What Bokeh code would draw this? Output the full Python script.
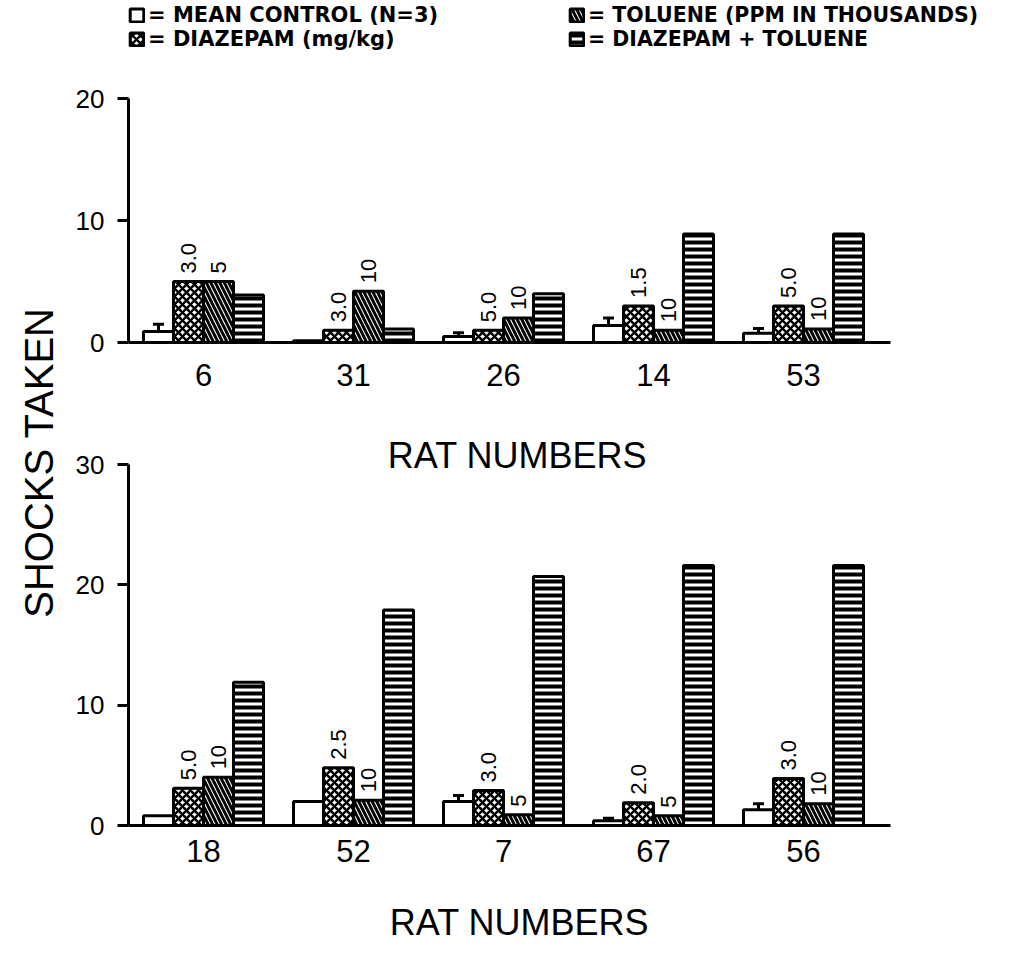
import math
from bokeh.plotting import figure
from bokeh.models import Range1d, FixedTicker, Legend, LegendItem, Label
from bokeh.layouts import row, column
from bokeh.embed import file_html
from bokeh.resources import INLINE
from bokeh.core.properties import value

# ---------------- data ----------------
top_rats = ["6", "31", "26", "14", "53"]
top_control = [0.9, 0.15, 0.5, 1.4, 0.75]
top_control_err = [1.5, None, 0.8, 2.0, 1.15]
top_diazepam = [5.0, 1.0, 1.0, 3.0, 3.0]
top_toluene = [5.0, 4.2, 2.0, 1.0, 1.1]
top_combo = [3.9, 1.1, 4.0, 8.9, 8.9]
top_diaz_dose = ["3.0", "3.0", "5.0", "1.5", "5.0"]
top_tol_dose = ["5", "10", "10", "10", "10"]

bottom_rats = ["18", "52", "7", "67", "56"]
bottom_control = [0.8, 2.0, 2.0, 0.4, 1.3]
bottom_control_err = [None, None, 2.5, 0.6, 1.8]
bottom_diazepam = [3.1, 4.8, 2.9, 1.9, 3.9]
bottom_toluene = [4.0, 2.1, 0.9, 0.8, 1.8]
bottom_combo = [11.9, 17.9, 20.7, 21.6, 21.6]
bottom_diaz_dose = ["5.0", "2.5", "3.0", "2.0", "3.0"]
bottom_tol_dose = ["10", "10", "5", "5", "10"]

top_ticks = [0, 10, 20]
bottom_ticks = [0, 10, 20, 30]

legend_labels = ["= MEAN CONTROL (N=3)", "= DIAZEPAM (mg/kg)",
                 "= TOLUENE (PPM IN THOUSANDS)", "= DIAZEPAM + TOLUENE"]
x_title = "RAT NUMBERS"
y_title = "SHOCKS TAKEN"

# ---------------- styling ----------------
FONT = "Liberation Sans"
LEG_FONT = "DejaVu Sans"
PX_PER_GROUP = 150.0
BAR_W = 0.2
AXIS_END = 5.08  # where the x axis line stops (data units)

styles = [
    dict(fill_color="white"),
    dict(fill_color="white", hatch_pattern="diagonal_cross", hatch_color="black",
         hatch_scale=8, hatch_weight=2.5),
    dict(fill_color="white", hatch_pattern="left_diagonal_line", hatch_color="black",
         hatch_scale=9, hatch_weight=3),
    dict(fill_color="white", hatch_pattern="horizontal_line", hatch_color="black",
         hatch_scale=7, hatch_weight=4),
]


def style_axes(p, yticks, ymax_tick, rats, standoff):
    p.outline_line_color = None
    p.xgrid.visible = False
    p.ygrid.visible = False
    yax = p.yaxis[0]
    yax.ticker = FixedTicker(ticks=yticks)
    yax.bounds = (0, ymax_tick)
    yax.axis_line_width = 3
    yax.major_tick_line_width = 3
    yax.major_tick_out = 11
    yax.major_tick_in = 0
    yax.minor_tick_line_color = None
    yax.major_label_text_font = FONT
    yax.major_label_text_font_size = "26px"
    yax.major_label_text_color = "black"
    yax.major_label_standoff = 13
    xax = p.xaxis[0]
    centers = [i + 0.5 for i in range(len(rats))]
    xax.ticker = FixedTicker(ticks=centers)
    xax.major_label_overrides = {c: r for c, r in zip(centers, rats)}
    xax.bounds = (0, AXIS_END)
    xax.axis_line_width = 3
    xax.major_tick_line_color = None
    xax.major_tick_out = 0
    xax.major_tick_in = 0
    xax.minor_tick_line_color = None
    xax.major_label_text_font = FONT
    xax.major_label_text_font_size = "31px"
    xax.major_label_text_color = "black"
    xax.major_label_standoff = standoff


def draw_panel(p, rats, control, err, diaz, tol, combo, diaz_dose, tol_dose):
    series = [control, diaz, tol, combo]
    renderers = []
    for k, vals in enumerate(series):
        xs = [i + 0.2 + BAR_W * k for i in range(len(rats))]
        r = p.vbar(x=xs, top=vals, bottom=0, width=BAR_W, line_color="black",
                   line_width=3, **styles[k])
        renderers.append(r)
    # error bars of control
    ex = [i + 0.2 for i, e in enumerate(err) if e is not None]
    ey0 = [control[i] for i, e in enumerate(err) if e is not None]
    ey1 = [e for e in err if e is not None]
    p.segment(x0=ex, y0=ey0, x1=ex, y1=ey1, line_color="black", line_width=3)
    p.scatter(x=ex, y=ey1, marker="dash", size=11, line_color="black", line_width=3)
    # dose labels
    for k, vals, labels in [(1, diaz, diaz_dose), (2, tol, tol_dose)]:
        xs = [i + 0.2 + BAR_W * k for i in range(len(rats))]
        p.text(x=xs, y=vals, text=labels, angle=math.pi / 2, text_align="left",
               text_baseline="middle", y_offset=-8, text_font=value(FONT),
               text_font_size="22px", text_color="black")
    return renderers


FIG_W = 946
LEFT = 66
frame_w = FIG_W - LEFT

# ---------------- top chart ----------------
T_H, T_BOTTOM = 430, 88
t_frame_h = T_H - T_BOTTOM
t_px_unit = 244.0 / 20.0
top = figure(width=FIG_W, height=T_H, output_backend="svg", toolbar_location=None,
             x_range=Range1d(0, frame_w / PX_PER_GROUP),
             y_range=Range1d(0, t_frame_h / t_px_unit),
             min_border_left=LEFT, min_border_right=0, min_border_top=0,
             min_border_bottom=T_BOTTOM, background_fill_color="white")
style_axes(top, top_ticks, 20, top_rats, 21)
rs = draw_panel(top, top_rats, top_control, top_control_err, top_diazepam,
                top_toluene, top_combo, top_diaz_dose, top_tol_dose)

leg_common = dict(glyph_width=17, glyph_height=16, label_height=16, spacing=0,
                  padding=0, margin=0, border_line_color=None,
                  background_fill_alpha=0, label_standoff=3,
                  label_text_font=LEG_FONT, label_text_font_style="bold",
                  label_text_color="black")
# one legend per entry so the rows sit at the reference's spacing
leg_pos = [(0, 315, "21px"), (0, 291, "21px"), (440, 315, "20.5px"), (440, 291, "20.5px")]
for k, (lx, ly, fs) in enumerate(leg_pos):
    top.add_layout(Legend(items=[LegendItem(label=legend_labels[k], renderers=[rs[k]])],
                          location=(lx, ly), label_text_font_size=fs, **leg_common))

# ---------------- bottom chart ----------------
B_H, B_BOTTOM = 450, 55
b_frame_h = B_H - B_BOTTOM
b_px_unit = 361.0 / 30.0
bot = figure(width=FIG_W, height=B_H, output_backend="svg", toolbar_location=None,
             x_range=Range1d(0, frame_w / PX_PER_GROUP),
             y_range=Range1d(0, b_frame_h / b_px_unit),
             min_border_left=LEFT, min_border_right=0,
             min_border_top=0, min_border_bottom=B_BOTTOM,
             background_fill_color="white")
style_axes(bot, bottom_ticks, 30, bottom_rats, 14)
draw_panel(bot, bottom_rats, bottom_control, bottom_control_err, bottom_diazepam,
           bottom_toluene, bottom_combo, bottom_diaz_dose, bottom_tol_dose)
# x title of the upper chart
bot.add_layout(Label(x=389, y=370, x_units="screen", y_units="screen", text=x_title,
                     text_align="center", text_baseline="middle", text_font=FONT,
                     text_font_size="36px", text_color="black"))

# ---------------- x title of the lower chart ----------------
C_H = 80
cap = figure(width=FIG_W, height=C_H, output_backend="svg", toolbar_location=None,
             x_range=Range1d(0, 1), y_range=Range1d(0, 1),
             x_axis_type=None, y_axis_type=None, min_border_left=LEFT,
             min_border_right=0, min_border_top=0, min_border_bottom=0)
cap.outline_line_color = None
cap.grid.visible = False
cap.add_layout(Label(x=391, y=38, x_units="screen", y_units="screen", text=x_title,
                     text_align="center", text_baseline="middle", text_font=FONT,
                     text_font_size="36px", text_color="black"))

# ---------------- y title column ----------------
L_W, L_H = 62, T_H + B_H + C_H
lab = figure(width=L_W, height=L_H, output_backend="svg", toolbar_location=None,
             x_range=Range1d(0, 1), y_range=Range1d(0, 1),
             x_axis_type=None, y_axis_type=None, min_border=0)
lab.outline_line_color = None
lab.grid.visible = False
lab.add_layout(Label(x=38, y=L_H - 462, x_units="screen", y_units="screen",
                     text=y_title, angle=math.pi / 2, text_align="center",
                     text_baseline="middle", text_font=FONT, text_font_size="40px",
                     text_color="black"))

layout = row(lab, column(top, bot, cap))
open("out.html", "w").write(file_html(layout, INLINE))
